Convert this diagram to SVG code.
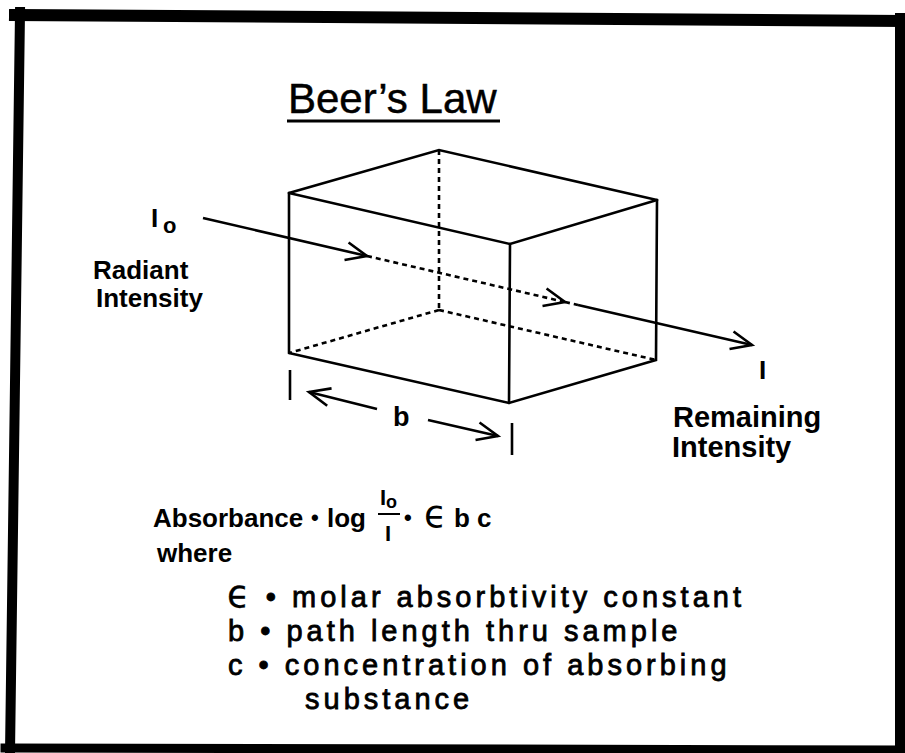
<svg xmlns="http://www.w3.org/2000/svg" width="905" height="753" viewBox="0 0 905 753">
<style>
  .frame{stroke:#000;fill:none;stroke-linecap:square}
  .edge{stroke:#000;stroke-width:2.6;fill:none;stroke-linecap:round}
  .hid{stroke:#000;stroke-width:2.6;fill:none;stroke-dasharray:5 4}
  .ray{stroke:#000;stroke-width:2.6;fill:none}
  .lbl{font-family:"Liberation Sans",Arial,Helvetica,sans-serif;font-weight:bold;fill:#000}
  .title{font-family:"Liberation Sans",Arial,Helvetica,sans-serif;font-size:42px;fill:#000;stroke:#000;stroke-width:0.5}
  .def{font-family:"Liberation Sans",Arial,Helvetica,sans-serif;font-size:29px;fill:#000;stroke:#000;stroke-width:0.8;letter-spacing:4px}
  .eps{font-family:"DejaVu Sans",sans-serif;font-size:37px;font-weight:normal;stroke-width:0.3}
</style>
<defs>
  <marker id="v" markerUnits="userSpaceOnUse" markerWidth="30" markerHeight="30" viewBox="-24 -15 30 30" refX="0" refY="0" orient="auto" overflow="visible">
    <path d="M-21,-9 L0,0 L-21,9" fill="none" stroke="#000" stroke-width="2.6" stroke-linejoin="miter"/>
  </marker>
</defs>
<rect width="905" height="753" fill="#fff"/>
<g id="frame">
  <line class="frame" x1="15" y1="15" x2="905" y2="21" stroke-width="12"/>
  <line class="frame" x1="20" y1="12" x2="10" y2="753" stroke-width="10"/>
  <line class="frame" x1="5" y1="748" x2="905" y2="750" stroke-width="9"/>
  <line class="frame" x1="900" y1="18" x2="900" y2="753" stroke-width="10"/>
</g>
<g id="title">
  <text class="title" x="288" y="113">Beer’s Law</text>
  <line x1="287" y1="121" x2="500" y2="121" stroke="#000" stroke-width="3"/>
</g>
<g id="cube">
  <line class="hid" x1="439" y1="150" x2="439" y2="310"/>
  <line class="hid" x1="439" y1="310" x2="289" y2="353"/>
  <line class="hid" x1="439" y1="310" x2="656" y2="360"/>
  <polyline class="edge" points="289,353 289,193 439,150 657,200 656,360 509,403 289,353"/>
  <polyline class="edge" points="289,193 510,244 657,200"/>
  <line class="edge" x1="510" y1="244" x2="509" y2="403"/>
</g>
<g id="connectors">
  <line class="ray" x1="203" y1="218" x2="367" y2="256" marker-end="url(#v)"/>
  <line class="ray" x1="367" y1="256" x2="565" y2="302" stroke-dasharray="5 4" marker-end="url(#v)"/>
  <line class="ray" x1="565" y1="302" x2="578" y2="305" stroke-dasharray="5 4"/>
  <line class="ray" x1="578" y1="305" x2="752" y2="345" marker-end="url(#v)"/>
  <line class="ray" x1="290" y1="370" x2="290" y2="400"/>
  <line class="ray" x1="377" y1="409" x2="309" y2="392" marker-end="url(#v)"/>
  <line class="ray" x1="428" y1="420" x2="498" y2="436" marker-end="url(#v)"/>
  <line class="ray" x1="512" y1="423" x2="512" y2="455"/>
</g>
<g id="incident">
  <text class="lbl" x="151" y="227" font-size="26">I</text>
  <text class="lbl" x="163" y="233" font-size="22">o</text>
  <text class="lbl" x="93" y="279" font-size="26">Radiant</text>
  <text class="lbl" x="96" y="307" font-size="26">Intensity</text>
</g>
<g id="remaining">
  <text class="lbl" x="759" y="379" font-size="26">I</text>
  <text class="lbl" x="673" y="427" font-size="29">Remaining</text>
  <text class="lbl" x="672" y="457" font-size="29">Intensity</text>
</g>
<g id="pathlen">
  <text class="lbl" x="393" y="426" font-size="27">b</text>
</g>
<g id="formula">
  <text class="lbl" x="153" y="527" font-size="26">Absorbance</text>
  <text class="lbl" x="311" y="525" font-size="22">•</text>
  <text class="lbl" x="327" y="527" font-size="26">log</text>
  <text class="lbl" x="380" y="505" font-size="22">I</text>
  <text class="lbl" x="386" y="508" font-size="18">o</text>
  <line x1="378" y1="514" x2="400" y2="514" stroke="#000" stroke-width="2"/>
  <text class="lbl" x="385" y="541" font-size="22">I</text>
  <text class="lbl" x="404" y="525" font-size="22">•</text>
  <text class="lbl" x="424" y="527" font-size="26"><tspan class="eps">ϵ</tspan> b c</text>
  <text class="lbl" x="157" y="562" font-size="26">where</text>
</g>
<g id="definitions">
  <text class="def" x="227" y="607"><tspan class="eps">ϵ</tspan> • molar absorbtivity constant</text>
  <text class="def" x="228" y="641">b • path length thru sample</text>
  <text class="def" x="228" y="675">c • concentration of absorbing</text>
  <text class="def" x="305" y="709">substance</text>
</g>
</svg>
